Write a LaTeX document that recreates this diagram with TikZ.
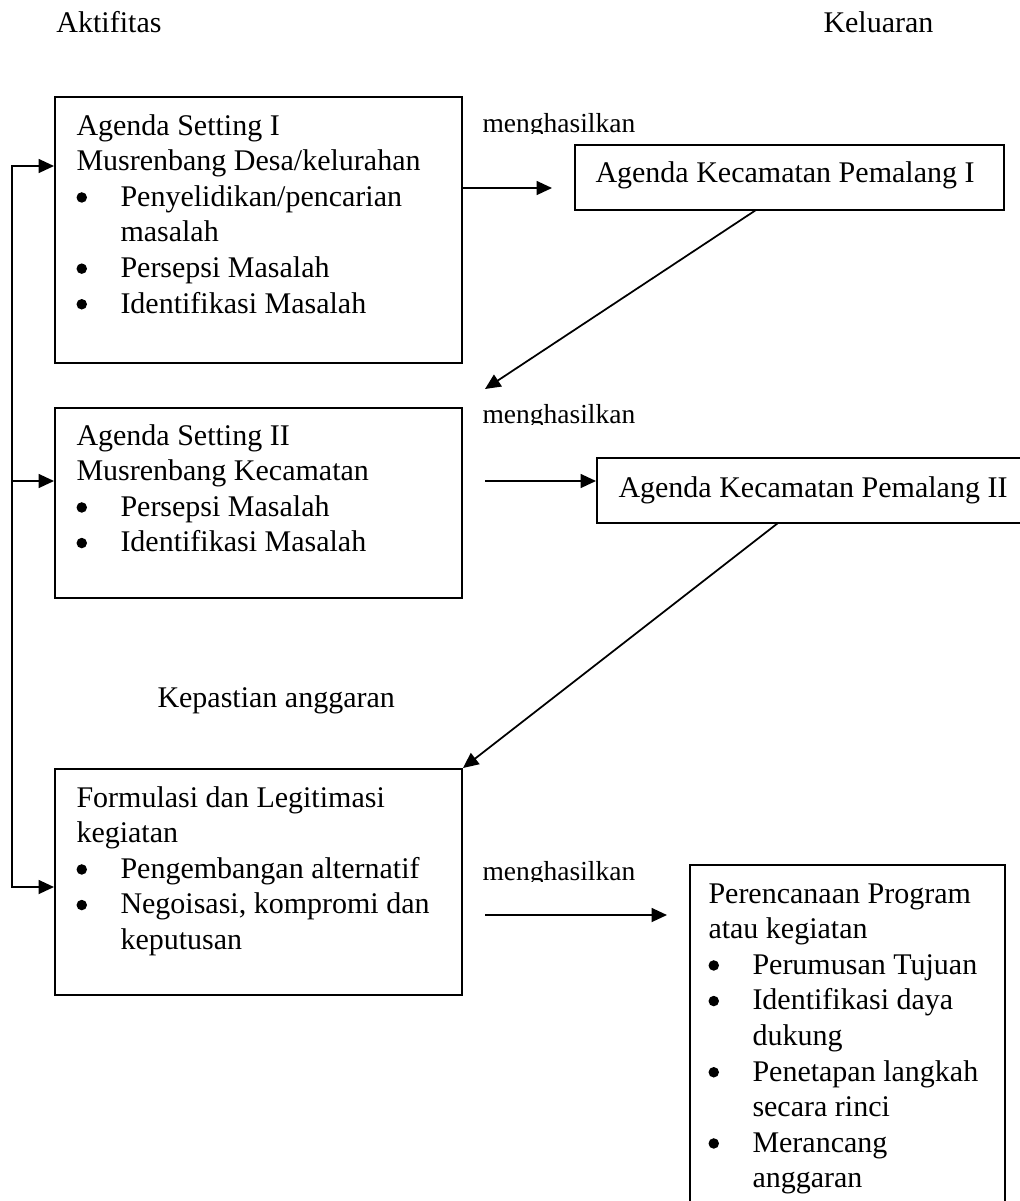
\documentclass[tikz,border=0pt]{standalone}
\usepackage{fontspec}
\setmainfont{Liberation Serif}
\usetikzlibrary{arrows.meta,fit}
\newcommand\hdline[1]{\multicolumn{2}{@{}l@{}}{#1}}
\newcommand\bul{\tikz[baseline=0pt]\fill (2.1pt,3.5pt) circle (2.1pt);}
\begin{document}
\begin{tikzpicture}[x=0.4pt,y=-0.4pt,
  box/.style={draw, line width=0.8pt, inner sep=0pt},
  txt/.style={inner sep=0pt, anchor=base west, font=\fontsize{12}{14.24}\selectfont},
  lbl/.style={inner sep=0pt, anchor=base west, font=\fontsize{11}{13}\selectfont},
  tip/.style={Triangle[length=6.2pt,width=5.6pt]},
  arr/.style={line width=0.7pt, -{Triangle[length=6.2pt,width=5.6pt]}},
  arrboth/.style={line width=0.7pt, {Triangle[length=6.2pt,width=5.6pt]}-{Triangle[length=6.2pt,width=5.6pt]}}]
\useasboundingbox (0,0) rectangle (1020,1201);
\clip (0,0) rectangle (1020,1201);

% headers
\node[txt] (hA) at (56,32) {Aktifitas};
\node[txt] (hK) at (823,32) {Keluaran};

% activity boxes
\node[box, fit={(55,97) (462,363)}] (b1) {};
\node[txt] (t1) at (76,135) {\begin{tabular}[t]{@{}p{17.6pt}@{}l@{}}
\hdline{Agenda Setting I}\\
\hdline{Musrenbang Desa/kelurahan}\\
\bul & Penyelidikan/pencarian\\
 & masalah\\
\bul & Persepsi Masalah\\
\bul & Identifikasi Masalah
\end{tabular}};

\node[box, fit={(55,408) (462,598)}] (b2) {};
\node[txt] (t2) at (76,445) {\begin{tabular}[t]{@{}p{17.6pt}@{}l@{}}
\hdline{Agenda Setting II}\\
\hdline{Musrenbang Kecamatan}\\
\bul & Persepsi Masalah\\
\bul & Identifikasi Masalah
\end{tabular}};

\node[box, fit={(55,769) (462,995)}] (b3) {};
\node[txt] (t3) at (76,807) {\begin{tabular}[t]{@{}p{17.6pt}@{}l@{}}
\hdline{Formulasi dan Legitimasi}\\
\hdline{kegiatan}\\
\bul & Pengembangan alternatif\\
\bul & Negoisasi, kompromi dan\\
 & keputusan
\end{tabular}};

% output boxes
\node[box, fit={(575,145) (1004,210)}] (k1) {};
\node[txt] (tk1) at (595,182) {Agenda Kecamatan Pemalang I};

\node[box, fit={(597,458) (1030,523)}] (k2) {};
\node[txt] (tk2) at (618,497) {Agenda Kecamatan Pemalang II};

\node[box, fit={(690,865) (1005,1240)}] (b4) {};
\node[txt] (t4) at (708,903) {\begin{tabular}[t]{@{}p{17.6pt}@{}l@{}}
\hdline{Perencanaan Program}\\
\hdline{atau kegiatan}\\
\bul & Perumusan Tujuan\\
\bul & Identifikasi daya\\
 & dukung\\
\bul & Penetapan langkah\\
 & secara rinci\\
\bul & Merancang\\
 & anggaran
\end{tabular}};

% labels
\begin{scope}
\clip (470,95) rectangle (660,133.5);
\node[lbl] (m1) at (482,132) {menghasilkan};
\end{scope}
\begin{scope}
\clip (470,385) rectangle (660,424.5);
\node[lbl] (m2) at (482,423) {menghasilkan};
\end{scope}
\begin{scope}
\clip (470,840) rectangle (660,881.5);
\node[lbl] (m3) at (482,880) {menghasilkan};
\end{scope}
\node[txt] (kp) at (157,707) {Kepastian anggaran};

% connectors
\coordinate (a1e) at (552,188);
\draw[arr] (b1.east |- a1e) -- (a1e);
\coordinate (a2s) at (485,481);
\draw[arr] (a2s) -- (a2s -| k2.west);
\coordinate (a3s) at (485,915);
\coordinate (a3e) at (667,915);
\draw[arr] (a3s) -- (a3e);

\coordinate (d1s) at (756,210);
\coordinate (d1e) at (485,389);
\draw[arr] (d1s) -- (d1e);
\coordinate (d2s) at (778,523);
\draw[arr] (d2s) -- (b3.north east);

% feedback loop on the left
\coordinate (L1) at (12,166);
\coordinate (L2) at (12,481);
\coordinate (L3) at (12,887);
\draw[arrboth] (L1 -| b1.west) -- (L1) -- (L3) -- (L3 -| b3.west);
\draw[arr] (L2) -- (L2 -| b2.west);
\end{tikzpicture}
\end{document}
